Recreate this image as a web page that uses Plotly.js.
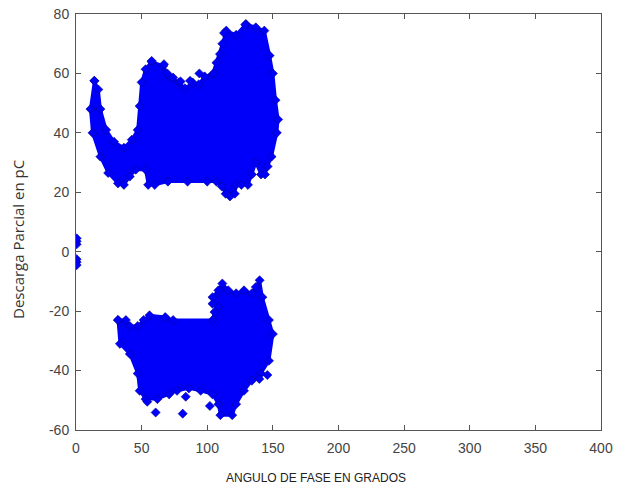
<!DOCTYPE html>
<html>
<head>
<meta charset="utf-8">
<script src="https://cdn.plot.ly/plotly-3.0.1.min.js"></script>
<style>
  html, body { margin: 0; padding: 0; background: #fff; }
  #chart { width: 617px; height: 491px; }
</style>
</head>
<body>
<div id="chart"></div>
<script>
// Outline of the positive-half-cycle discharge cloud (phase in degrees, charge in pC)
var posCloudPhase = [14, 11, 12.6, 18.6, 24.5, 32, 36.5, 41, 45.5, 53, 55, 60, 70, 85, 100, 107, 111, 114, 117.3, 121, 122, 126, 131, 134, 137, 141, 144, 146, 149, 153, 154, 152, 150, 147.5, 143.5, 137, 129.5, 122, 114.5, 111.5, 107, 104, 98, 93.5, 89, 83, 78.5, 71, 66.5, 57.5, 53, 50, 48.5, 47, 42.5, 36.5, 29, 23, 18.6, 17];
var posCloudCharge = [57.5, 48, 40, 32, 26.5, 23, 22.5, 25.3, 27.6, 27.6, 22.5, 22.5, 23.6, 23.6, 23.6, 23.6, 22, 19.5, 18.6, 19.5, 22.5, 22.5, 22.5, 26, 30, 26, 26, 28.7, 32, 40, 44.5, 51, 60, 66, 74.4, 75.5, 76.6, 73, 74.4, 70, 63.6, 59.7, 59, 56.3, 56.9, 55, 57, 59, 62.5, 64, 61.4, 57, 49, 41, 37.7, 35, 37, 41, 48, 54.6];

// Outline of the negative-half-cycle discharge cloud
var negCloudPhase = [32, 33.5, 41, 47, 48.5, 53, 62, 71, 77, 86, 95, 104, 108.5, 110, 119, 122, 128, 134, 141, 147, 150, 147, 142, 139.9, 137, 134, 128, 122, 116, 111.5, 108.5, 104, 104, 108.5, 105.5, 104, 74, 68, 56, 51.5, 47, 41, 38];
var negCloudCharge = [-23, -31, -34.4, -41, -46.8, -49.6, -49.6, -48, -46.8, -46, -46.8, -48, -51.3, -55, -55, -51.3, -46.8, -43.4, -41, -36.7, -27.7, -23, -15.3, -9.6, -11.9, -14, -13, -14, -13, -10.7, -13, -15.3, -17.5, -18.6, -20.3, -23, -23, -22, -21.4, -23, -25, -25, -23];

// Isolated pulses outside the main clouds
var isolatedPhase = [57.7, 67, 69.6, 74, 79.7, 86.9, 94, 105, 109.7, 112.8, 129, 54.3, 60.7, 81.3, 83.6, 102, 139.7, 145.8, 0.5, 0.5, 0.5, 0.5, 0.5, 0.5];
var isolatedCharge = [64.2, 63.1, 60, 58.6, 57.3, 57.5, 60, 60, 66.5, 73.6, 76.4, -50.5, -54.1, -54.5, -48.8, -51.9, -42.8, -41.5, 2.5, 3.5, 4.5, -2.5, -3.5, -4.5];

// Axis ticks
var phaseTicks = [0, 50, 100, 150, 200, 250, 300, 350, 400];
var chargeTicks = [-60, -40, -20, 0, 20, 40, 60, 80];

var blue = 'rgb(0,0,250)';
var edge = 'rgb(0,0,150)';

function cloud(x, y) {
  return {
    x: x, y: y, type: 'scatter', mode: 'lines+markers',
    fill: 'toself', fillcolor: blue,
    line: { color: blue, width: 3 },
    marker: { symbol: 'diamond', size: 7, color: blue, line: { color: edge, width: 0.6 } },
    hoverinfo: 'x+y', showlegend: false
  };
}

var traces = [
  cloud(posCloudPhase.concat([posCloudPhase[0]]), posCloudCharge.concat([posCloudCharge[0]])),
  cloud(negCloudPhase.concat([negCloudPhase[0]]), negCloudCharge.concat([negCloudCharge[0]])),
  {
    x: isolatedPhase, y: isolatedCharge, type: 'scatter', mode: 'markers',
    marker: { symbol: 'diamond', size: 7, color: blue, line: { color: edge, width: 0.6 } },
    showlegend: false
  }
];

var tickFont = { family: 'Liberation Sans, Arial, sans-serif', size: 14, color: '#444' };
var axisCommon = {
  showgrid: false, zeroline: false, showline: true, mirror: 'ticks',
  linecolor: '#555', linewidth: 1,
  ticks: 'inside', ticklen: 5, tickcolor: '#555', tickwidth: 1,
  tickfont: tickFont, fixedrange: true
};

var layout = {
  width: 617, height: 491,
  margin: { l: 76, r: 16, t: 14, b: 61 },
  paper_bgcolor: '#fff', plot_bgcolor: '#fff',
  xaxis: Object.assign({}, axisCommon, { range: [0, 400], tickvals: phaseTicks, ticktext: phaseTicks.map(String), ticklabelstandoff: 5 }),
  yaxis: Object.assign({}, axisCommon, { range: [-60, 80], tickvals: chargeTicks, ticktext: chargeTicks.map(String), ticklabelstandoff: 3 }),
  annotations: [
    {
      text: 'ANGULO DE FASE EN GRADOS', xref: 'paper', yref: 'paper',
      x: (316 - 76) / 525, y: -(478 - 430) / 416, xanchor: 'center', yanchor: 'middle', showarrow: false,
      font: { family: 'Liberation Sans, Arial, sans-serif', size: 12, color: '#222' }
    },
    {
      text: 'Descarga Parcial en pC', xref: 'paper', yref: 'paper',
      x: (18 - 76) / 525, y: (430 - 240) / 416, xanchor: 'center', yanchor: 'middle', textangle: -90, showarrow: false,
      font: { family: 'Open Sans, Liberation Sans, sans-serif', size: 15, color: '#333' }
    }
  ]
};

Plotly.newPlot('chart', traces, layout, { displayModeBar: false, staticPlot: true });
</script>
</body>
</html>
